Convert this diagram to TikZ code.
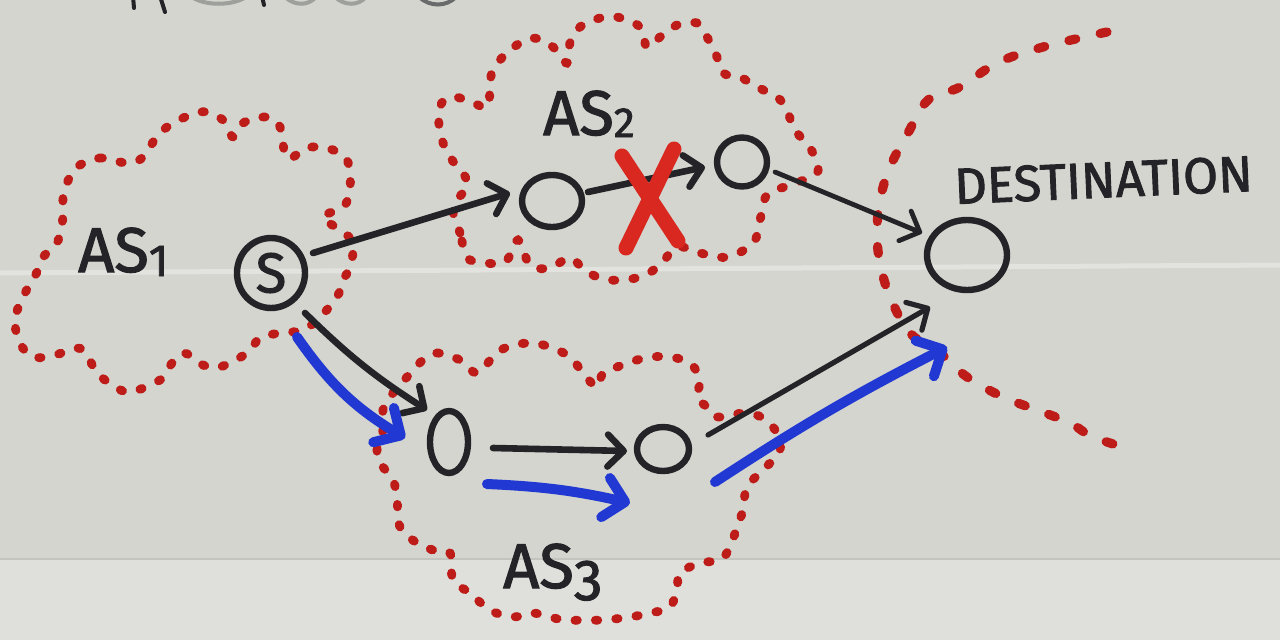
\documentclass[tikz,border=0pt]{standalone}
\usepackage{fontspec}
\setmainfont{Fira Sans}
\newfontfamily\handfont{Fira Sans}[FakeBold=1.8]
\usetikzlibrary{arrows.meta,shapes.geometric}
\definecolor{paper}{HTML}{D3D5CE}
\definecolor{paperlow}{HTML}{DFE0DB}
\definecolor{fold}{HTML}{E2E3DF}
\definecolor{ink}{HTML}{232328}
\definecolor{bluepen}{HTML}{2238D2}
\definecolor{redpen}{HTML}{BE1C18}
\definecolor{redx}{HTML}{D8281F}
\tikzset{
  router/.style={ellipse,draw=ink,line width=0.32cm,inner sep=0pt},
  cloudline/.style={draw=redpen,line width=0.44cm,line cap=round,dash pattern=on 0.12cm off 0.9cm},
  borderline/.style={draw=redpen,line width=0.46cm,line cap=round,dash pattern=on 0.35cm off 1.25cm},
  blackarrow/.style={draw=ink,line width=0.33cm,line cap=round,-{Straight Barb[round,length=0.8cm,width=1.6cm]}},
  bluearrow/.style={draw=bluepen,line width=0.5cm,line cap=round,-{Straight Barb[round,length=1.0cm,width=2.0cm]}},
  xstroke/.style={draw=redx,line width=0.75cm,line cap=round},
  aslabel/.style={inner sep=0pt,text=ink,font=\handfont\fontsize{90}{90}\selectfont},
  destlabel/.style={inner sep=0pt,text=ink,font=\handfont\fontsize{72}{72}\selectfont},
  frag/.style={draw=ink,line width=0.2cm,line cap=round}
}
\begin{document}
\begin{tikzpicture}[x=0.05cm,y=-0.05cm]
\useasboundingbox (0,0) rectangle (1280,640);
\clip (0,0) rectangle (1280,640);
% paper
\fill[paper] (0,0) rectangle (1280,640);
\fill[paperlow] (0,560) rectangle (1280,640);
\draw[fold,line width=0.25cm] (0,273) -- (1280,265);
\draw[paper!92!black,line width=0.08cm] (0,559) -- (1280,559);
% cut-off handwriting fragments at the top edge
\draw[frag] (133,-4) -- (134,8);
\draw[frag] (160,-4) -- (165,12);
\draw[frag,draw=ink!30!paper] (192,-3) .. controls (205,6) and (232,6) .. (246,-3);
\draw[frag] (262,-4) -- (264,5);
\draw[frag,draw=ink!30!paper] (285,-3) .. controls (295,6) and (308,6) .. (316,-3);
\draw[frag,draw=ink!30!paper] (335,-3) .. controls (345,6) and (358,6) .. (366,-3);
\draw[frag,draw=ink!60!paper] (419,-3) .. controls (430,7) and (446,7) .. (456,-3);

% AS clouds
\path[cloudline] plot[smooth cycle,tension=0.6] coordinates {
 (77,167) (100,158) (127,163) (143,157) (163,130) (200,112) (223,120) (233,137)
 (243,123) (267,117) (280,127) (287,158) (307,148) (327,148) (347,160) (350,190)
 (343,207) (323,217) (340,230) (353,243) (350,267) (343,280) (337,297) (320,317)
 (303,330) (280,333) (260,338) (247,353) (220,367) (203,365) (183,353) (167,370)
 (160,380) (130,392) (113,385) (97,373) (87,355) (77,348) (55,355) (33,357)
 (20,343) (15,320) (23,297) (37,272) (43,257) (57,243) (63,217) (63,197) (67,183)};
\path[cloudline] plot[smooth cycle,tension=0.6] coordinates {
 (467,257) (460,233) (453,207) (467,187) (463,173) (450,157) (440,133) (440,107)
 (450,97) (467,100) (487,107) (490,87) (493,70) (510,50) (533,38) (553,47)
 (567,63) (570,43) (580,27) (600,18) (617,17) (640,27) (647,47) (660,37)
 (677,25) (697,23) (707,37) (717,57) (723,73) (740,77) (757,87) (777,97)
 (787,110) (793,127) (803,140) (813,153) (817,173) (790,185) (767,195) (760,220)
 (753,243) (727,257) (700,253) (677,247) (660,265) (640,277) (610,280) (587,272)
 (570,258) (550,268) (530,265) (518,240) (505,262) (480,262)};
\path[cloudline] plot[smooth cycle,tension=0.6] coordinates {
 (423,360) (437,353) (460,360) (477,373) (493,357) (507,347) (530,343) (550,347)
 (570,357) (583,373) (597,387) (603,373) (617,367) (637,360) (650,357) (670,357)
 (690,363) (700,380) (697,397) (707,407) (717,417) (750,413) (773,427) (780,450)
 (763,470) (747,487) (743,510) (737,527) (730,547) (720,560) (700,563) (680,573)
 (677,587) (670,607) (650,613) (630,617) (603,620) (583,620) (563,620) (533,613)
 (513,617) (490,610) (470,593) (453,580) (450,553) (433,550) (417,543) (400,527)
 (397,500) (393,480) (380,463) (377,450) (383,430) (383,410) (393,393) (407,377)};
% destination AS border
\path[borderline] plot[smooth,tension=0.6] coordinates {
 (1107,32) (1043,47) (997,63) (960,87) (928,100) (908,133) (890,167) (880,200)
 (877,233) (880,263) (890,297) (910,333) (940,353) (967,377) (1003,397) (1037,410)
 (1070,423) (1093,437) (1133,450)};

% labels
\node[aslabel,anchor=base west] (as1) at (78,272) {AS\raisebox{-0.2cm}{\fontsize{64}{64}\selectfont 1}};
\node[aslabel,anchor=base west] (as2) at (543,135) {AS\raisebox{-0.1cm}{\fontsize{60}{60}\selectfont 2}};
\node[aslabel,anchor=base west] (as3) at (503,588) {AS\raisebox{-0.6cm}{\fontsize{82}{82}\selectfont 3}};
\node[destlabel,anchor=base west,rotate=2.5] (dest) at (955,204) {DESTINATION};

% routers
\node[router,minimum width=3.4cm,minimum height=3.5cm,font=\handfont\fontsize{80}{80}\selectfont,text=ink] (S) at (271,273) {S};
\node[router,minimum width=3.0cm,minimum height=2.6cm] (A2a) at (552,201) {};
\node[router,minimum width=2.5cm,minimum height=2.45cm] (A2b) at (742,162) {};
\node[router,minimum width=4.0cm,minimum height=3.5cm] (D) at (967,255) {};
\node[router,minimum width=1.9cm,minimum height=3.1cm] (A3a) at (449,442) {};
\node[router,minimum width=2.6cm,minimum height=2.2cm] (A3b) at (663,449) {};

% black connectors
\draw[blackarrow] ([shift={(42,-20)}]S.center) -- ([shift={(-42,-8)}]A2a.center);
\draw[blackarrow] ([shift={(36,-9)}]A2a.center) -- ([shift={(-37,5)}]A2b.center);
\draw[blackarrow,line width=0.24cm] ([shift={(33,10)}]A2b.center) -- ([shift={(-45,-22)}]D.center);
\draw[blackarrow] ([shift={(34,40)}]S.center) to[bend right=6] ([shift={(-22,-32)}]A3a.center);
\draw[blackarrow] ([shift={(44,6)}]A3a.center) -- ([shift={(-36,2)}]A3b.center);
\draw[blackarrow,line width=0.26cm] ([shift={(45,-14)}]A3b.center) -- ([shift={(-37,52)}]D.center);

% blue connectors
\draw[bluearrow] ([shift={(26,64)}]S.center) to[bend right=12] ([shift={(-44,-4)}]A3a.center);
\draw[bluearrow] ([shift={(38,42)}]A3a.center) to[bend left=5] ([shift={(-33,54)}]A3b.center);
\draw[bluearrow] ([shift={(52,33)}]A3b.center) to[bend left=3] ([shift={(-20,92)}]D.center);

% red cross on the failed link
\coordinate (xm) at (650,198);
\draw[xstroke] ([shift={(-28,-42)}]xm) -- ([shift={(28,43)}]xm);
\draw[xstroke] ([shift={(24,-49)}]xm) -- ([shift={(-24,50)}]xm);
\end{tikzpicture}
\end{document}
